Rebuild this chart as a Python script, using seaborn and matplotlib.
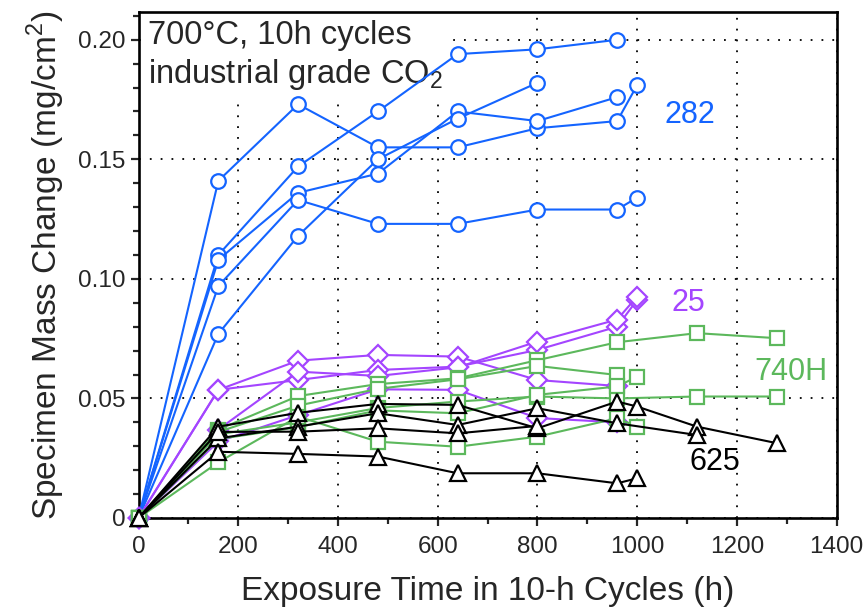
import numpy as np
import pandas as pd
import matplotlib
matplotlib.use('Agg')
import matplotlib.pyplot as plt
from matplotlib.ticker import MultipleLocator, FuncFormatter
import seaborn as sns

# exposure times (h)
t6 = [0, 160, 320, 480, 640, 800]
t7 = [0, 160, 320, 480, 640, 800, 960]
t8 = [0, 160, 320, 480, 640, 800, 960, 1000]
t9 = [0, 160, 320, 480, 640, 800, 960, 1120, 1280]
t_k1 = [0, 160, 320, 480, 640, 800, 960, 1000, 1120, 1280]
t_k2 = [0, 160, 320, 480, 640, 800, 960, 1120]

# alloy 282 (blue circles)
m282_a = [0, 0.110, 0.147, 0.170, 0.194, 0.196, 0.200]
m282_b = [0, 0.141, 0.173, 0.155, 0.155, 0.163, 0.166, 0.181]
m282_c = [0, 0.108, 0.136, 0.144, 0.170, 0.166, 0.176]
m282_d = [0, 0.097, 0.133, 0.123, 0.123, 0.129, 0.129, 0.134]
m282_e = [0, 0.077, 0.118, 0.150, 0.167, 0.182]

# alloy 25 (purple diamonds)
m25_a = [0, 0.0536, 0.0658, 0.0682, 0.0675, 0.0577, 0.0552]
m25_b = [0, 0.0536, 0.0577, 0.0619, 0.0633, 0.0703, 0.0800, 0.0912]
m25_c = [0, 0.0370, 0.0612, 0.0594, 0.0630, 0.0738, 0.0830, 0.0926]
m25_d = [0, 0.0320, 0.0430, 0.0538, 0.0536, 0.0418, 0.0400]

# alloy 740H (green squares)
m740_a = [0, 0.037, 0.051, 0.056, 0.0584, 0.066, 0.0735, 0.0773, 0.0752]
m740_b = [0, 0.036, 0.047, 0.054, 0.0580, 0.0636, 0.0598]
m740_c = [0, 0.035, 0.040, 0.046, 0.0487, 0.0508, 0.0500, 0.0508, 0.0508]
m740_d = [0, 0.033, 0.038, 0.045, 0.0438, 0.0515, 0.0550, 0.0591]
m740_e = [0, 0.0233, 0.0424, 0.0319, 0.0298, 0.0340, 0.0417, 0.0382]

# alloy 625 (black triangles)
m625_a = [0, 0.0382, 0.0440, 0.0477, 0.0473, 0.0375, 0.0487, 0.0466, 0.0382, 0.0313]
m625_b = [0, 0.0333, 0.0382, 0.0438, 0.0389, 0.0459, 0.0396, 0.0347]
m625_c = [0, 0.0277, 0.0268, 0.0257, 0.0187, 0.0187, 0.0145, 0.0166]
m625_d = [0, 0.0360, 0.0361, 0.0375, 0.0354, 0.0385]

alloys = ['282', '25', '740H', '625']
colors = {'282': '#1464ff', '25': '#a445ff', '740H': '#5cb85c', '625': 'black'}
markers = {'282': 'o', '25': 'D', '740H': 's', '625': '^'}
msizes = {'282': 10.5, '25': 10, '740H': 10, '625': 11}
specimens = {
    '282': [(t7, m282_a), (t8, m282_b), (t7, m282_c), (t8, m282_d), (t6, m282_e)],
    '25': [(t7, m25_a), (t8, m25_b), (t8, m25_c), (t7, m25_d)],
    '740H': [(t9, m740_a), (t7, m740_b), (t9, m740_c), (t8, m740_d), (t8, m740_e)],
    '625': [(t_k1, m625_a), (t_k2, m625_b), (t8, m625_c), (t6, m625_d)],
}

rows = []
for alloy in alloys:
    for i, (t, m) in enumerate(specimens[alloy]):
        for ti, mi in zip(t, m):
            rows.append({'alloy': alloy, 'spec': f'{alloy}-{i}', 'time': ti, 'mass': mi})
df = pd.DataFrame(rows)

sns.set_style('ticks')
plt.rcParams['font.family'] = ['Liberation Sans', 'DejaVu Sans']
plt.rcParams['mathtext.fontset'] = 'custom'
plt.rcParams['mathtext.rm'] = 'Liberation Sans'

fig = plt.figure(figsize=(8.66, 6.13), dpi=100)
ax = fig.add_axes([0.16, 0.155, 0.806, 0.825])

for alloy in alloys:
    sub = df[df['alloy'] == alloy]
    c = colors[alloy]
    sns.lineplot(data=sub, x='time', y='mass', units='spec', estimator=None,
                 color=c, marker=markers[alloy], markersize=msizes[alloy],
                 markerfacecolor='white', markeredgecolor=c, markeredgewidth=1.6,
                 linewidth=1.5, ax=ax, clip_on=False, zorder=3)

ax.set_xlim(0, 1400)
ax.set_ylim(0, 0.2115)
ax.xaxis.set_major_locator(MultipleLocator(200))
ax.xaxis.set_minor_locator(MultipleLocator(100))
ax.yaxis.set_major_locator(MultipleLocator(0.05))
ax.yaxis.set_minor_locator(MultipleLocator(0.01))
ax.yaxis.set_major_formatter(FuncFormatter(lambda v, p: '0' if abs(v) < 1e-9 else f'{v:.2f}'))

ax.grid(True, which='major', color='black', linestyle=(0, (1, 5)), linewidth=1.3)
ax.set_axisbelow(True)
ax.tick_params(which='major', direction='out', length=6, width=1.6, labelsize=17.5)
ax.tick_params(axis='x', which='major', pad=7)
ax.tick_params(which='minor', direction='out', length=4, width=1.6)
for s in ax.spines.values():
    s.set_linewidth(1.9)
    s.set_color('black')

ax.set_xlabel('Exposure Time in 10-h Cycles (h)', fontsize=24, labelpad=13)
ax.set_ylabel('Specimen Mass Change (mg/cm$^2$)', fontsize=24, labelpad=8)

ax.text(0.013, 0.985, '700°C, 10h cycles\nindustrial grade CO$_2$', transform=ax.transAxes,
        ha='left', va='top', fontsize=23.5, linespacing=1.25, zorder=2,
        bbox=dict(facecolor='white', edgecolor='none', pad=5))

ax.text(1106, 0.1686, '282', color=colors['282'], fontsize=22, ha='center', va='center')
ax.text(1102, 0.0900, '25', color=colors['25'], fontsize=22, ha='center', va='center')
ax.text(1308, 0.0610, '740H', color=colors['740H'], fontsize=22, ha='center', va='center')
ax.text(1156, 0.0234, '625', color=colors['625'], fontsize=22, ha='center', va='center')

fig.savefig('out.png', dpi=100)
